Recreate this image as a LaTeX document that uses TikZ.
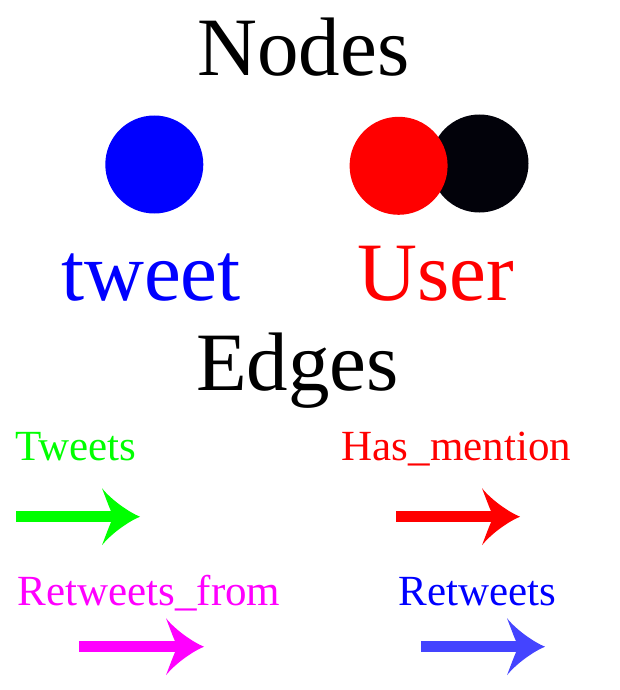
\documentclass[tikz,border=0pt]{standalone}
\usepackage{fontspec}
\setmainfont{Liberation Serif}
\begin{document}
\begin{tikzpicture}[x=1pt,y=-1pt,
  big/.style={anchor=base,inner sep=0pt,font=\fontsize{83}{90}\selectfont},
  small/.style={anchor=base,inner sep=0pt,font=\fontsize{43}{48}\selectfont},
  dot/.style={circle,inner sep=0pt,minimum size=98pt},
  shaft/.style={line width=11pt,line cap=butt},
  arrowhead/.pic={
    \fill (0,0) .. controls (-10,-4) and (-28,-16) .. (-38,-28.5)
      .. controls (-34,-18) and (-31,-10) .. (-29,-5.5) -- (-29,5.5)
      .. controls (-31,10) and (-34,18) .. (-38,28.5)
      .. controls (-28,16) and (-10,4) .. (0,0) -- cycle;
  }]
\definecolor{tgreen}{RGB}{0,255,0}
\definecolor{tred}{RGB}{255,0,0}
\definecolor{tmagenta}{RGB}{255,0,255}
\definecolor{tblue}{RGB}{0,0,255}
\definecolor{lblue}{RGB}{68,68,255}
\definecolor{nblack}{RGB}{2,2,10}
\useasboundingbox (0,0) rectangle (620,690);

% Node legend
\node[big] (nodes) at (303.5,76) {Nodes};
\node[dot,fill=tblue] (tweetdot) at (154.3,164.5) {};
\node[dot,fill=nblack] (userdot2) at (479.5,163.5) {};
\node[dot,fill=tred] (userdot1) at (398.6,165.8) {};
\node[big,text=tblue] (tweetlbl) at (151,300) {tweet};
\node[big,text=tred] (userlbl) at (435.5,300) {User};

% Edge legend
\node[big] (edges) at (297.5,390) {Edges};
\node[small,text=tgreen] (lt) at (76,460) {Tweets};
\node[small,text=tred] (lh) at (456.5,460) {Has\_mention};
\node[small,text=tmagenta] (lrf) at (149,605) {Retweets\_from};
\node[small,text=tblue] (lr) at (477.5,605) {Retweets};

\coordinate (ts) at (16,516.7);  \coordinate (te) at (140,516.7);
\coordinate (hs) at (396,516.7); \coordinate (he) at (520,516.7);
\coordinate (fs) at (79,646.7);  \coordinate (fe) at (204,646.7);
\coordinate (rs) at (421,646.7); \coordinate (re) at (545,646.7);

\draw[shaft,tgreen] (ts) -- ([xshift=-28pt]te);
\pic[tgreen] at (te) {arrowhead};
\draw[shaft,tred] (hs) -- ([xshift=-28pt]he);
\pic[tred] at (he) {arrowhead};
\draw[shaft,tmagenta] (fs) -- ([xshift=-28pt]fe);
\pic[tmagenta] at (fe) {arrowhead};
\draw[shaft,lblue] (rs) -- ([xshift=-28pt]re);
\pic[lblue] at (re) {arrowhead};
\end{tikzpicture}
\end{document}
